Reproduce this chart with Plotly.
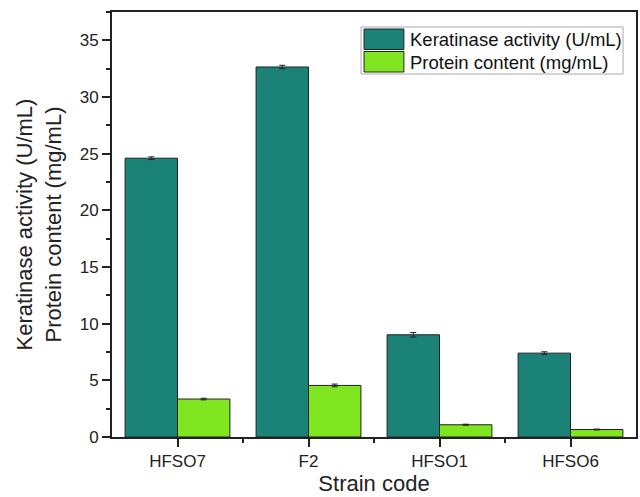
import plotly.graph_objects as go

categories = ["HFSO7", "F2", "HFSO1", "HFSO6"]
keratinase = [24.6, 32.65, 9.02, 7.4]
keratinase_err = [0.12, 0.15, 0.2, 0.12]
protein = [3.35, 4.55, 1.08, 0.66]
protein_err = [0.07, 0.12, 0.05, 0.04]
series_names = ["Keratinase activity (U/mL)", "Protein content (mg/mL)"]
colors = ["#1b8278", "#80e620"]

xpos = list(range(len(categories)))
FONT = "Liberation Sans, Arial, sans-serif"

fig = go.Figure()
for vals, errs, name, col in [(keratinase, keratinase_err, series_names[0], colors[0]),
                              (protein, protein_err, series_names[1], colors[1])]:
    fig.add_trace(go.Bar(
        x=xpos, y=vals, name=name, marker_color=col,
        marker_line=dict(color="#222222", width=1),
        error_y=dict(type="data", array=errs, color="#222222", thickness=1, width=3),
        showlegend=False,
    ))

fig.update_layout(
    width=640, height=497,
    margin=dict(l=112, r=2, t=12, b=60),
    paper_bgcolor="white", plot_bgcolor="white",
    barmode="group", bargap=0.2, bargroupgap=0,
    font=dict(family=FONT, color="#222222", size=17),
)
fig.update_xaxes(
    range=[-0.5, 3.5], tickvals=xpos, ticktext=categories,
    showline=True, linecolor="#222222", linewidth=2, mirror=True,
    ticks="outside", ticklen=8, tickwidth=1.5, tickcolor="#222222",
    minor=dict(tickvals=[0.5, 1.5, 2.5], ticks="outside", ticklen=4, tickwidth=1.5, tickcolor="#222222"),
    showgrid=False, zeroline=False,
    tickfont=dict(size=17),
    title=dict(text="Strain code", font=dict(size=22), standoff=4),
)
fig.update_yaxes(
    range=[0, 37.5], tickvals=[0, 5, 10, 15, 20, 25, 30, 35],
    showline=True, linecolor="#222222", linewidth=2, mirror=True,
    ticks="outside", ticklen=8, tickwidth=1.5, tickcolor="#222222",
    minor=dict(dtick=2.5, tick0=0, ticks="outside", ticklen=4, tickwidth=1.5, tickcolor="#222222"),
    showgrid=False, zeroline=False,
    tickfont=dict(size=17),
    title=dict(text="Keratinase activity (U/mL)<br>Protein content (mg/mL)", font=dict(size=22), standoff=12),
)

# custom legend box with large swatches (positions in paper coords)
def px_x(px):
    return (px - 112) / (640 - 112 - 2)

def px_y(py):
    return (497 - 60 - py) / (497 - 60 - 12)

fig.add_shape(type="rect", xref="paper", yref="paper",
              x0=px_x(362), x1=px_x(625), y0=px_y(74), y1=px_y(27),
              line=dict(color="#aaaaaa", width=1), fillcolor="white")
for i, (name, col) in enumerate(zip(series_names, colors)):
    top = 29 + i * 22.5
    fig.add_shape(type="rect", xref="paper", yref="paper",
                  x0=px_x(365), x1=px_x(405), y0=px_y(top + 20.5), y1=px_y(top),
                  line=dict(color="#222222", width=1), fillcolor=col)
    fig.add_annotation(xref="paper", yref="paper", x=px_x(409), y=px_y(top + 10.5),
                       text=name, showarrow=False, xanchor="left", yanchor="middle",
                       font=dict(size=18.5, family=FONT, color="#111111"))

fig.write_html("out.html")
